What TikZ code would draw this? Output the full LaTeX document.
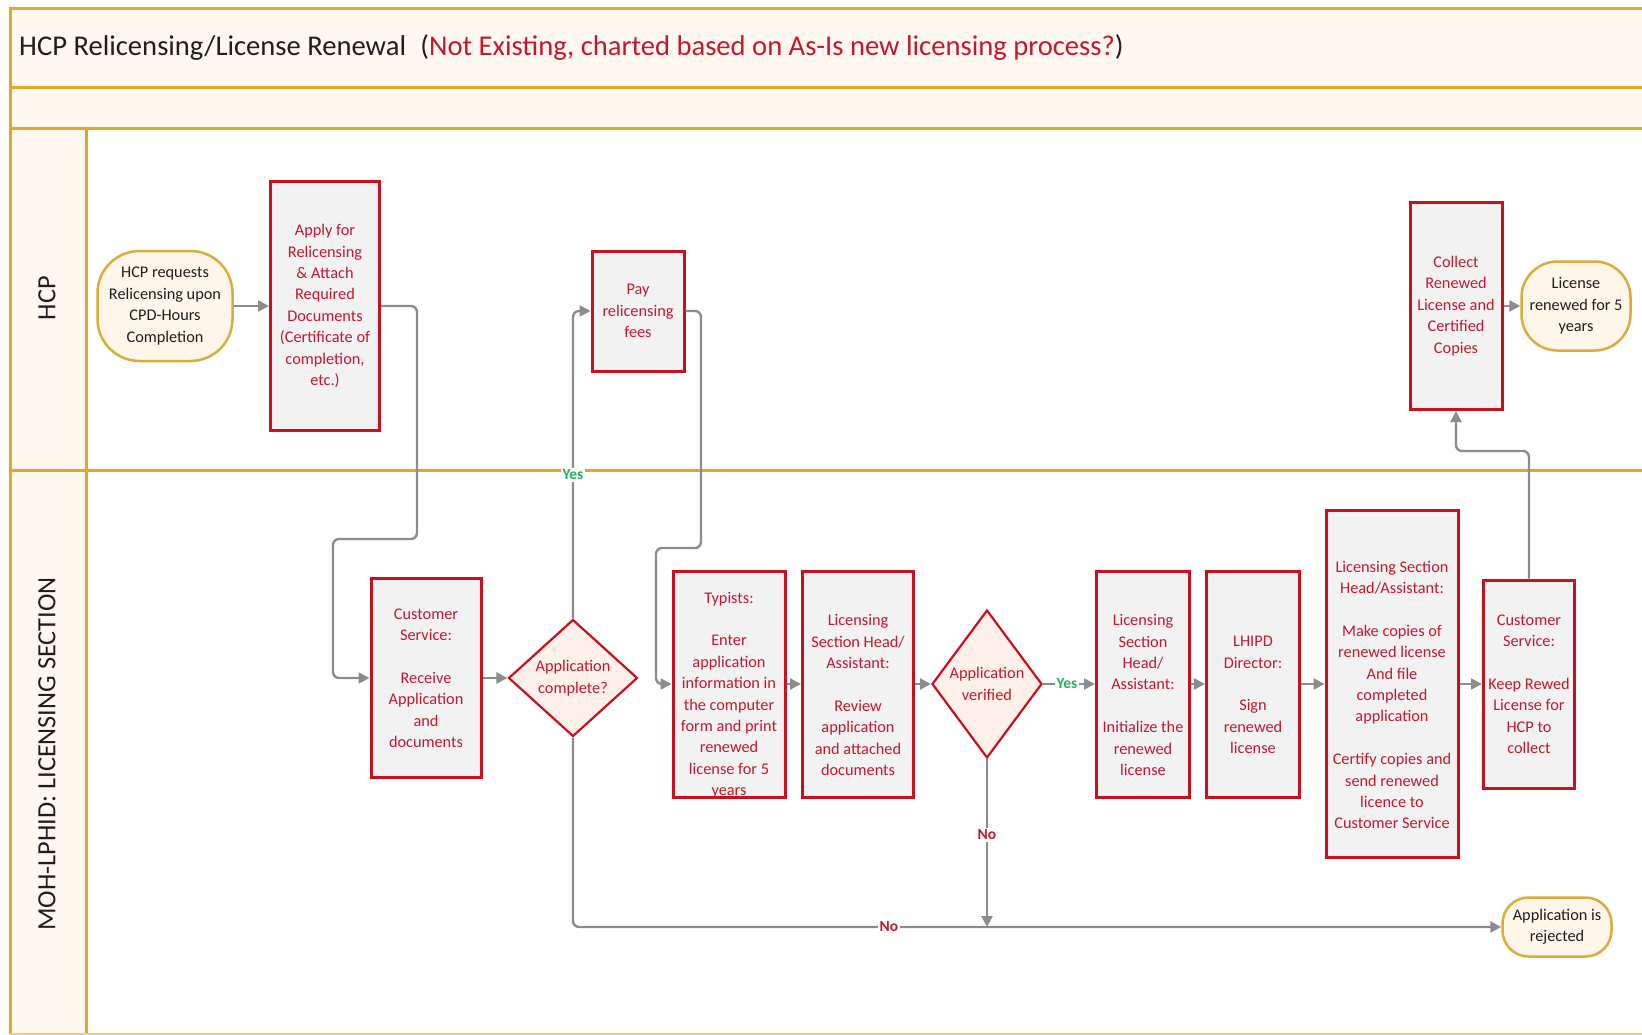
\documentclass[tikz,border=0pt]{standalone}
\usepackage{fontspec}
\setmainfont{Carlito}
\usetikzlibrary{arrows.meta,shapes.geometric}

\definecolor{gold}{RGB}{222,168,40}
\definecolor{cream}{RGB}{254,248,240}
\definecolor{boxred}{RGB}{200,16,30}
\definecolor{txtred}{RGB}{196,24,44}
\definecolor{boxfill}{RGB}{242,242,242}
\definecolor{termfill}{RGB}{254,246,232}
\definecolor{termline}{RGB}{218,172,60}
\definecolor{diafill}{RGB}{253,240,232}
\definecolor{flow}{RGB}{140,140,140}
\definecolor{yesgreen}{RGB}{40,176,90}
\definecolor{ink}{RGB}{30,30,30}

\tikzset{
  bodyfont/.style={font=\fontsize{16.3}{21.4}\selectfont},
  proc/.style={draw=boxred, line width=3pt, fill=boxfill, inner sep=0pt,
    text=txtred, align=center, bodyfont},
  ptext/.style={text=txtred, align=center, inner sep=0pt, bodyfont},
  term/.style={draw=termline, line width=2.5pt, fill=termfill, inner sep=0pt,
    text=ink, align=center, bodyfont},
  decision/.style={diamond, draw=boxred, line width=2.2pt, fill=diafill,
    inner sep=0pt},
  lane/.style={gold, line width=3pt},
  flowline/.style={draw=flow, line width=2.4pt, rounded corners=6pt,
    -{Triangle[length=11pt,width=11pt]}},
  yeslbl/.style={fill=white, inner sep=1.5pt, text=yesgreen,
    font=\fontsize{15.5}{17}\selectfont\bfseries},
  nolbl/.style={fill=white, inner sep=1.5pt, text=txtred,
    font=\fontsize{15.5}{17}\selectfont\bfseries},
  lanelbl/.style={rotate=90, text=ink, inner sep=0pt,
    font=\fontsize{26.3}{30}\selectfont}
}

\begin{document}
\begin{tikzpicture}[x=1pt,y=-1pt]
\useasboundingbox (0,0) rectangle (1642,1034);
\clip (0,0) rectangle (1642,1034);

% ---- pool frame, header bands and lanes ----
\fill[cream] (10,8) rectangle (1660,128);
\fill[cream] (10,128) rectangle (86,1034);
\draw[lane] (1660,8) -- (10,8) -- (10,1034);
\draw[lane] (10,87) -- (1660,87);
\draw[lane] (10,128) -- (1660,128);
\draw[lane] (86,128) -- (86,1034);
\draw[lane] (10,470) -- (1660,470);
\draw[gold!55, line width=2pt] (10,1034) -- (1660,1034);

\node[anchor=west, inner sep=0pt, text=ink, font=\fontsize{28.6}{33}\selectfont]
  (title) at (19,47)
  {HCP Relicensing/License Renewal\hspace{0.5em}(\textcolor{txtred}{Not Existing, charted based on As-Is new licensing process?})};

\node[lanelbl] (lanehcp) at (47,298) {HCP};
\node[lanelbl] (lanemoh) at (47,754) {MOH-LPHID: LICENSING SECTION};

% ---- HCP lane ----
\node[term, rounded corners=42pt, minimum width=135, minimum height=110]
  (start) at (165,306) {HCP requests\\Relicensing upon\\CPD-Hours\\Completion};
\node[proc, minimum width=109, minimum height=249] (apply) at (325,306)
  {Apply for\\Relicensing\\\& Attach\\Required\\Documents\\(Certificate of\\completion,\\etc.)};
\node[proc, minimum width=92, minimum height=120] (pay) at (638,311)
  {Pay\\relicensing\\fees};
\node[proc, minimum width=92, minimum height=207] (collect) at (1456,306)
  {Collect\\Renewed\\License and\\Certified\\Copies};
\node[term, rounded corners=36pt, minimum width=109, minimum height=89]
  (renewed) at (1576,306) {License\\renewed for 5\\years};

% ---- Licensing section lane ----
\node[proc, minimum width=110, minimum height=199] (receive) at (426,678)
  {Customer\\Service:\\[21.4pt]Receive\\Application\\and\\documents};

\node[decision, minimum width=129, minimum height=117] (dia1) at (573,678) {};
\node[ptext] (dia1t) at (573,678) {Application\\complete?};

\node[proc, minimum width=112, minimum height=226] (typ) at (729,684) {};
\node[ptext] (typt) at (729,695)
  {Typists:\\[21.4pt]Enter\\application\\information in\\the computer\\form and print\\renewed\\license for 5\\years};

\node[proc, minimum width=111, minimum height=226] (rev) at (858,684) {};
\node[ptext] (revt) at (858,695)
  {Licensing\\Section Head/\\Assistant:\\[21.4pt]Review\\application\\and attached\\documents};

\node[decision, minimum width=110, minimum height=148] (dia2) at (987,684) {};
\node[ptext] (dia2t) at (987,684) {Application\\verified};

\node[proc, minimum width=93, minimum height=226] (init) at (1143,684) {};
\node[ptext] (initt) at (1143,695)
  {Licensing\\Section\\Head/\\Assistant:\\[21.4pt]Initialize the\\renewed\\license};

\node[proc, minimum width=93, minimum height=226] (lhipd) at (1253,684) {};
\node[ptext] (lhipdt) at (1253,695)
  {LHIPD\\Director:\\[21.4pt]Sign\\renewed\\license};

\node[proc, minimum width=132, minimum height=347] (copies) at (1392,684) {};
\node[ptext] (copiest) at (1392,695)
  {Licensing Section\\Head/Assistant:\\[21.4pt]Make copies of\\renewed license\\And file\\completed\\application\\[21.4pt]Certify copies and\\send renewed\\licence to\\Customer Service};

\node[proc, minimum width=91, minimum height=208] (keep) at (1529,684)
  {Customer\\Service:\\[21.4pt]Keep Rewed\\License for\\HCP to\\collect};

\node[term, rounded corners=26pt, minimum width=109, minimum height=59]
  (rejected) at (1557,927) {Application is\\rejected};

\coordinate (merge) at (987,927);

% ---- connectors ----
\draw[flowline] (start.east) -- (apply.west);
\draw[flowline] (apply.east) -| (417,539) -- (333,539) |- (receive.west);
\draw[flowline] (receive.east) -- (dia1.west);
\draw[flowline] (dia1.north) |- (pay.west);
\draw[flowline] (pay.east) -| (701,548) -- (656,548) |- (typ.west);
\draw[flowline] (typ.east) -- (rev.west);
\draw[flowline] (rev.east) -- (dia2.west);
\draw[flowline] (dia2.east) -- (init.west);
\draw[flowline] (init.east) -- (lhipd.west);
\draw[flowline] (lhipd.east) -- (copies.west);
\draw[flowline] (copies.east) -- (keep.west);
\draw[flowline] (keep.north) -- (1529,451) -| (collect.south);
\draw[flowline] (collect.east) -- (renewed.west);
\draw[flowline] (dia1.south) |- (rejected.west);
\draw[flowline] (dia2.south) -- (merge);

% ---- branch labels ----
\node[yeslbl] (yes1) at (573,475) {Yes};
\node[yeslbl] (yes2) at (1067,684) {Yes};
\node[nolbl] (no1) at (889,927) {No};
\node[nolbl] (no2) at (987,835) {No};
\end{tikzpicture}
\end{document}
